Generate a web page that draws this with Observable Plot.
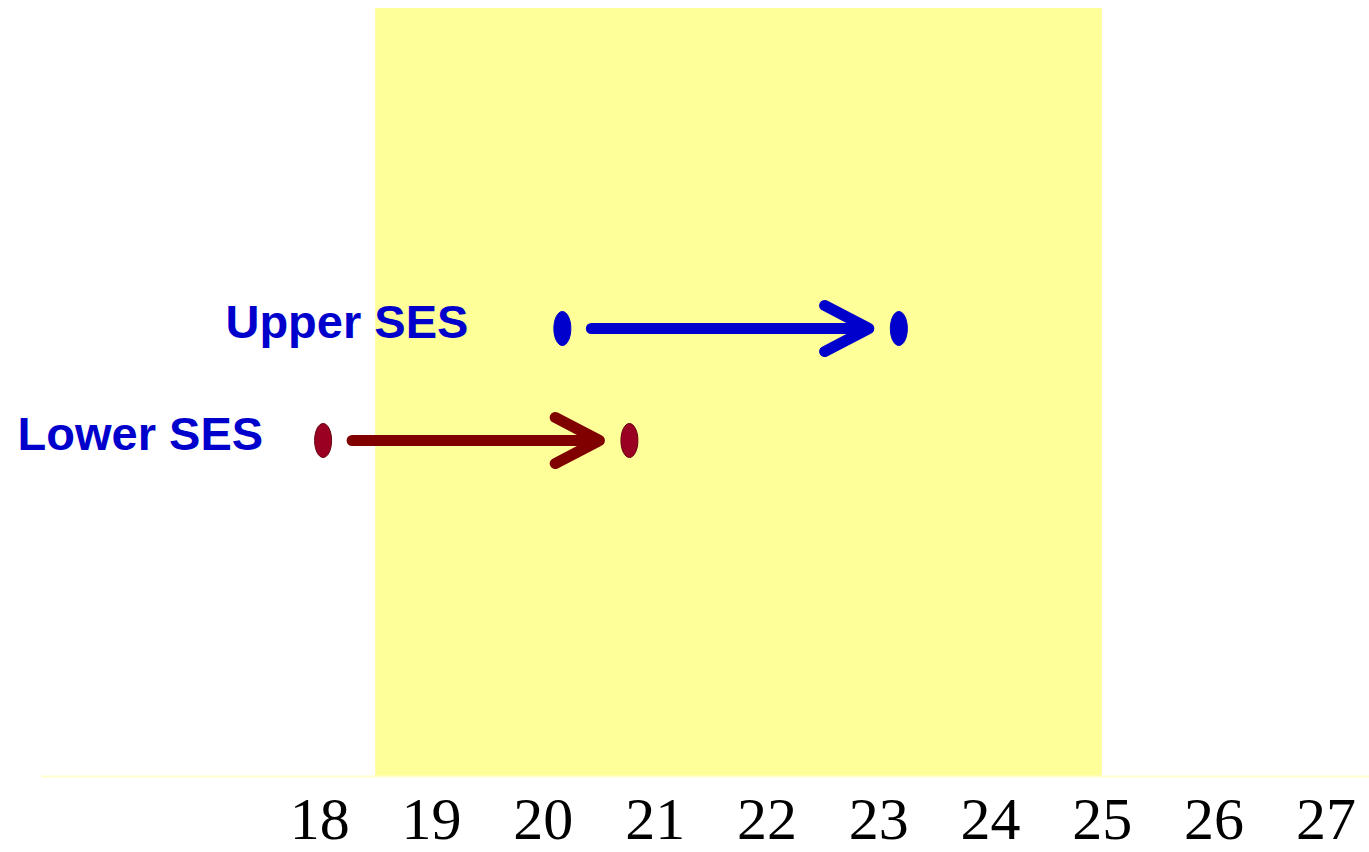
<!DOCTYPE html>
<html>
<head>
<meta charset="utf-8">
<script src="https://cdn.jsdelivr.net/npm/d3@7"></script>
<script src="https://cdn.jsdelivr.net/npm/@observablehq/plot@0.6"></script>
<style>
  html, body { margin: 0; padding: 0; background: #ffffff; }
  #chart svg { display: block; }
</style>
</head>
<body>
<div id="chart"></div>
<script>
// Data
const groups = ["Upper SES", "Lower SES"];
const bmiBefore = [20.17, 18.03];
const bmiAfter = [23.18, 20.77];
const normalRange = [18.5, 25];
const tickValues = [18, 19, 20, 21, 22, 23, 24, 25, 26, 27];

const rows = groups.map((g, i) => ({group: g, before: bmiBefore[i], after: bmiAfter[i]}));
const points = rows.flatMap(r => [{group: r.group, x: r.before}, {group: r.group, x: r.after}]);
const band = [{lo: normalRange[0], hi: normalRange[1]}];

const arrowColor = {"Upper SES": "#0000cc", "Lower SES": "#800000"};
const dotFill = {"Upper SES": "#0000cc", "Lower SES": "#990022"};
const dotStroke = {"Upper SES": "#0000cc", "Lower SES": "#6a0010"};

// Vertical ellipse symbol
const ellipse = {
  draw(context, size) {
    const r = Math.sqrt(size / Math.PI);
    const rx = r * 0.5, ry = r, k = 0.5523;
    context.moveTo(0, -ry);
    context.bezierCurveTo(rx * k, -ry, rx, -ry * k, rx, 0);
    context.bezierCurveTo(rx, ry * k, rx * k, ry, 0, ry);
    context.bezierCurveTo(-rx * k, ry, -rx, ry * k, -rx, 0);
    context.bezierCurveTo(-rx, -ry * k, -rx * k, -ry, 0, -ry);
    context.closePath();
  }
};

const chart = Plot.plot({
  width: 1369,
  height: 852,
  marginLeft: 42,
  marginRight: 0,
  marginTop: 8,
  marginBottom: 76,
  style: {background: "#ffffff"},
  x: {domain: [15.52, 27.39], ticks: tickValues, tickFormat: d => String(d), label: null},
  y: {type: "point", domain: groups, range: [328, 440], padding: 0, axis: null},
  marks: [
    Plot.rect(band, {x1: "lo", x2: "hi", fill: "#ffff99"}),
    Plot.frame({anchor: "bottom", stroke: "#ffffcc", strokeWidth: 2}),
    Plot.axisX({
      ticks: tickValues,
      tickFormat: d => String(d),
      tickSize: 0,
      tickPadding: 20,
      fontSize: 60,
      fontFamily: "Liberation Serif, Times New Roman, serif",
      fill: "#000000",
      label: null
    }),
    Plot.arrow(rows, {
      x1: "before", x2: "after", y: "group",
      stroke: d => arrowColor[d.group],
      strokeWidth: 11,
      headLength: 6.8,
      headAngle: 55,
      insetStart: 29,
      insetEnd: 30
    }),
    Plot.dot(points, {
      x: "x", y: "group",
      r: 17,
      symbol: ellipse,
      fill: d => dotFill[d.group],
      stroke: d => dotStroke[d.group],
      strokeWidth: 1
    }),
    Plot.text(rows.filter(d => d.group === "Upper SES"), {
      x: "before", y: "group", text: "group",
      textAnchor: "end", dx: -94, dy: -6,
      fontSize: 47, fontWeight: "bold",
      fontFamily: "Liberation Sans, Arial, sans-serif",
      fill: "#0000cc"
    }),
    Plot.text(rows.filter(d => d.group === "Lower SES"), {
      x: "before", y: "group", text: "group",
      textAnchor: "end", dx: -60, dy: -6,
      fontSize: 47, fontWeight: "bold",
      fontFamily: "Liberation Sans, Arial, sans-serif",
      fill: "#0000cc"
    })
  ]
});
document.getElementById("chart").appendChild(chart);
</script>
</body>
</html>
